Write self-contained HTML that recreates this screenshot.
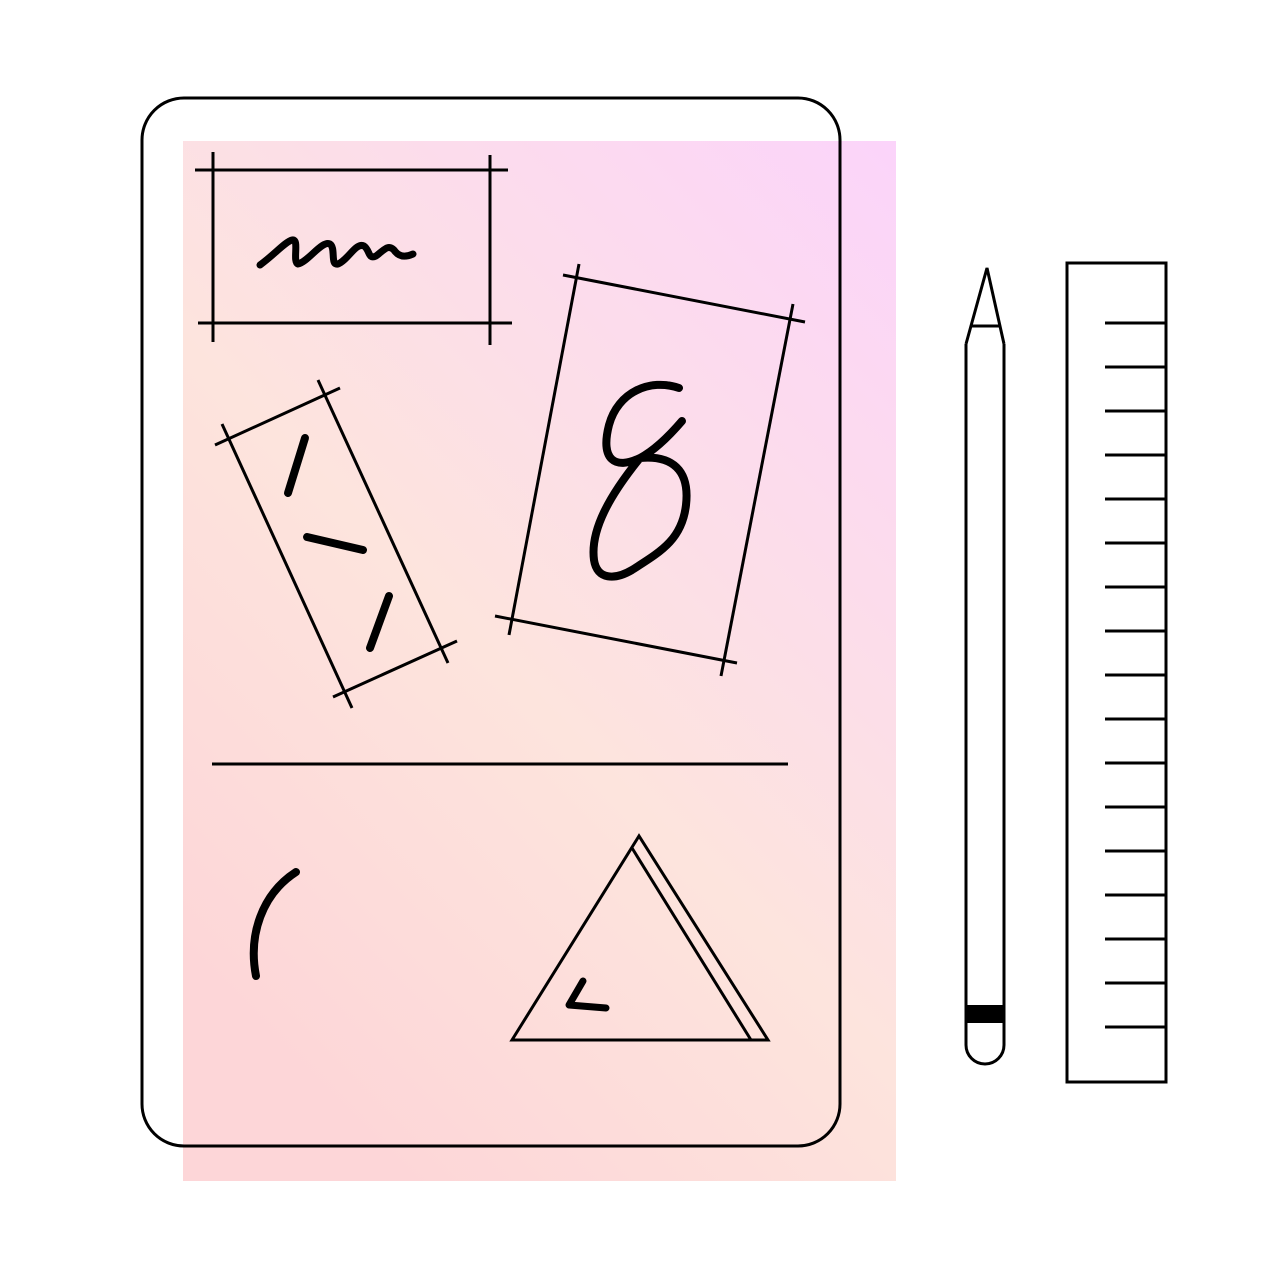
<!DOCTYPE html>
<html><head><meta charset="utf-8"><style>html,body{margin:0;padding:0;background:#fff}svg{display:block}</style></head>
<body>
<svg width="1280" height="1281" viewBox="0 0 1280 1281" xmlns="http://www.w3.org/2000/svg">
<defs>
<linearGradient id="g2" x1="1" y1="0" x2="0.3" y2="1">
<stop offset="0" stop-color="#fbd4fa"/>
<stop offset="0.3" stop-color="#fcdcec"/>
<stop offset="0.6" stop-color="#fde4dd"/>
<stop offset="1" stop-color="#fdd6d8"/>
</linearGradient>
</defs>
<rect x="183" y="141" width="713" height="1040" fill="url(#g2)"/>
<g fill="none" stroke="#000" stroke-width="3" stroke-linecap="butt">
<rect x="142" y="98" width="698" height="1048" rx="42"/>
<g>
<line x1="195" y1="170" x2="508" y2="170"/><line x1="198" y1="323" x2="512" y2="323"/>
<line x1="213" y1="152" x2="213" y2="342"/><line x1="490" y1="155" x2="490" y2="345"/>
</g>
<path stroke-width="7" stroke-linecap="round" stroke-linejoin="round" d="M260,265 C275,254 285,242 292,240 C300,238 292,262 298,264 C308,262 322,240 330,244 C336,248 330,266 338,264 C348,260 356,242 364,246 C370,250 368,260 376,256 C384,250 388,244 394,250 C398,256 404,258 413,254"/>
<g>
<line x1="215" y1="445" x2="340" y2="388"/><line x1="333" y1="697" x2="457" y2="641"/>
<line x1="222" y1="424" x2="352" y2="708"/><line x1="318" y1="380" x2="448" y2="663"/>
</g>
<g stroke-width="8" stroke-linecap="round">
<line x1="305" y1="438" x2="288" y2="493"/><line x1="307" y1="537" x2="363" y2="550"/><line x1="389" y1="596" x2="370" y2="648"/>
</g>
<g>
<line x1="563" y1="275" x2="805" y2="322"/><line x1="495" y1="616" x2="737" y2="663"/>
<line x1="579" y1="264" x2="509" y2="635"/><line x1="793" y1="304" x2="721" y2="676"/>
</g>
<path stroke-width="8" stroke-linecap="round" stroke-linejoin="round" d="M679,388 C650,378 618,392 609,425 C600,460 615,470 640,458 C655,450 670,435 682,421 M640,458 C610,495 590,530 594,560 C597,580 615,580 632,570 C660,552 682,540 686,505 C690,470 672,455 640,458"/>
<line x1="212" y1="764" x2="788" y2="764"/>
<path stroke-width="8" stroke-linecap="round" d="M296,872 C262,894 248,935 256,976"/>
<path d="M512,1040 L639,836 L768,1040 Z"/>
<line x1="632" y1="848" x2="751" y2="1040"/>
<path stroke-width="7" stroke-linecap="round" stroke-linejoin="round" d="M583,981 L569,1005 L606,1008"/>
<g>
<path d="M966,344 L987,268 L1004,344"/>
<line x1="971" y1="326" x2="1000" y2="326"/>
<path d="M966,344 L966,1045 A19,19 0 0 0 1004,1045 L1004,344"/>
<rect x="966" y="1005" width="38" height="18" fill="#000" stroke="none"/>
</g>
<g>
<rect x="1067" y="263" width="99" height="819" fill="#fff"/>
<line x1="1105" x2="1166" y1="323" y2="323"/><line x1="1105" x2="1166" y1="367" y2="367"/>
<line x1="1105" x2="1166" y1="411" y2="411"/><line x1="1105" x2="1166" y1="455" y2="455"/>
<line x1="1105" x2="1166" y1="499" y2="499"/><line x1="1105" x2="1166" y1="543" y2="543"/>
<line x1="1105" x2="1166" y1="587" y2="587"/><line x1="1105" x2="1166" y1="631" y2="631"/>
<line x1="1105" x2="1166" y1="675" y2="675"/><line x1="1105" x2="1166" y1="719" y2="719"/>
<line x1="1105" x2="1166" y1="763" y2="763"/><line x1="1105" x2="1166" y1="807" y2="807"/>
<line x1="1105" x2="1166" y1="851" y2="851"/><line x1="1105" x2="1166" y1="895" y2="895"/>
<line x1="1105" x2="1166" y1="939" y2="939"/><line x1="1105" x2="1166" y1="983" y2="983"/>
<line x1="1105" x2="1166" y1="1027" y2="1027"/>
</g>
</g>
</svg>
</body></html>
